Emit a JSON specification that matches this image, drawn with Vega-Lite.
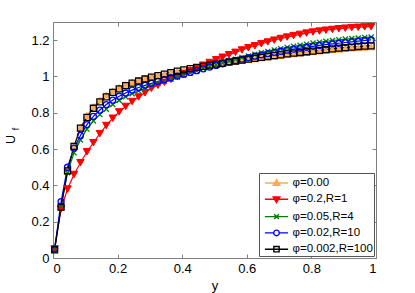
{
  "$schema": "https://vega.github.io/schema/vega-lite/v6.json",
  "width": 323,
  "height": 236,
  "autosize": "none",
  "padding": {"left": 53, "top": 22, "right": 39, "bottom": 35},
  "background": "white",
  "config": {
    "view": {"stroke": null},
    "font": "Liberation Sans",
    "axis": {
      "grid": false,
      "labelFont": "Liberation Sans",
      "labelFontSize": 13,
      "labelColor": "#000000",
      "domainColor": "#808080",
      "domainWidth": 1,
      "tickColor": "#808080",
      "tickSize": -4,
      "labelPadding": 8,
      "titleFont": "Liberation Sans",
      "titleFontWeight": "normal",
      "titleFontSize": 13,
      "titleColor": "#000000"
    },
    "legend": {
      "orient": "bottom-right",
      "offset": 2,
      "padding": 1,
      "strokeColor": "#555555",
      "fillColor": "white",
      "labelFont": "Liberation Sans",
      "labelFontSize": 11.5,
      "labelColor": "#000000",
      "symbolSize": 256,
      "symbolStrokeWidth": 1.5,
      "symbolOffset": 7.5,
      "rowPadding": 1.3,
      "labelOffset": 7
    }
  },
  "data": {"values": [
    {"s":"φ=0.00","x":0.005,"u":0.05},{"s":"φ=0.00","x":0.025,"u":0.28},{"s":"φ=0.00","x":0.045,"u":0.48},{"s":"φ=0.00","x":0.065,"u":0.62},{"s":"φ=0.00","x":0.085,"u":0.72},
    {"s":"φ=0.00","x":0.105,"u":0.785},{"s":"φ=0.00","x":0.125,"u":0.835},{"s":"φ=0.00","x":0.145,"u":0.87},{"s":"φ=0.00","x":0.165,"u":0.898},{"s":"φ=0.00","x":0.185,"u":0.921},
    {"s":"φ=0.00","x":0.205,"u":0.94},{"s":"φ=0.00","x":0.225,"u":0.956},{"s":"φ=0.00","x":0.245,"u":0.969},{"s":"φ=0.00","x":0.265,"u":0.98},{"s":"φ=0.00","x":0.285,"u":0.99},
    {"s":"φ=0.00","x":0.305,"u":0.999},{"s":"φ=0.00","x":0.325,"u":1.007},{"s":"φ=0.00","x":0.345,"u":1.015},{"s":"φ=0.00","x":0.365,"u":1.022},{"s":"φ=0.00","x":0.385,"u":1.029},
    {"s":"φ=0.00","x":0.405,"u":1.036},{"s":"φ=0.00","x":0.425,"u":1.042},{"s":"φ=0.00","x":0.445,"u":1.048},{"s":"φ=0.00","x":0.465,"u":1.054},{"s":"φ=0.00","x":0.485,"u":1.06},
    {"s":"φ=0.00","x":0.505,"u":1.066},{"s":"φ=0.00","x":0.525,"u":1.071},{"s":"φ=0.00","x":0.545,"u":1.077},{"s":"φ=0.00","x":0.565,"u":1.082},{"s":"φ=0.00","x":0.585,"u":1.087},
    {"s":"φ=0.00","x":0.605,"u":1.092},{"s":"φ=0.00","x":0.625,"u":1.097},{"s":"φ=0.00","x":0.645,"u":1.102},{"s":"φ=0.00","x":0.665,"u":1.106},{"s":"φ=0.00","x":0.685,"u":1.111},
    {"s":"φ=0.00","x":0.705,"u":1.115},{"s":"φ=0.00","x":0.725,"u":1.12},{"s":"φ=0.00","x":0.745,"u":1.124},{"s":"φ=0.00","x":0.765,"u":1.128},{"s":"φ=0.00","x":0.785,"u":1.132},
    {"s":"φ=0.00","x":0.805,"u":1.136},{"s":"φ=0.00","x":0.825,"u":1.14},{"s":"φ=0.00","x":0.845,"u":1.143},{"s":"φ=0.00","x":0.865,"u":1.147},{"s":"φ=0.00","x":0.885,"u":1.15},
    {"s":"φ=0.00","x":0.905,"u":1.153},{"s":"φ=0.00","x":0.925,"u":1.156},{"s":"φ=0.00","x":0.945,"u":1.159},{"s":"φ=0.00","x":0.965,"u":1.161},{"s":"φ=0.00","x":0.985,"u":1.163},

    {"s":"φ=0.2,R=1","x":0.005,"u":0.05},{"s":"φ=0.2,R=1","x":0.025,"u":0.27},{"s":"φ=0.2,R=1","x":0.045,"u":0.38},{"s":"φ=0.2,R=1","x":0.065,"u":0.46},{"s":"φ=0.2,R=1","x":0.085,"u":0.525},
    {"s":"φ=0.2,R=1","x":0.105,"u":0.585},{"s":"φ=0.2,R=1","x":0.125,"u":0.635},{"s":"φ=0.2,R=1","x":0.145,"u":0.685},{"s":"φ=0.2,R=1","x":0.165,"u":0.73},{"s":"φ=0.2,R=1","x":0.185,"u":0.77},
    {"s":"φ=0.2,R=1","x":0.205,"u":0.805},{"s":"φ=0.2,R=1","x":0.225,"u":0.835},{"s":"φ=0.2,R=1","x":0.245,"u":0.862},{"s":"φ=0.2,R=1","x":0.265,"u":0.887},{"s":"φ=0.2,R=1","x":0.285,"u":0.91},
    {"s":"φ=0.2,R=1","x":0.305,"u":0.935},{"s":"φ=0.2,R=1","x":0.325,"u":0.952},{"s":"φ=0.2,R=1","x":0.345,"u":0.968},{"s":"φ=0.2,R=1","x":0.365,"u":0.984},{"s":"φ=0.2,R=1","x":0.385,"u":0.999},
    {"s":"φ=0.2,R=1","x":0.405,"u":1.015},{"s":"φ=0.2,R=1","x":0.425,"u":1.031},{"s":"φ=0.2,R=1","x":0.445,"u":1.047},{"s":"φ=0.2,R=1","x":0.465,"u":1.062},{"s":"φ=0.2,R=1","x":0.485,"u":1.077},
    {"s":"φ=0.2,R=1","x":0.505,"u":1.092},{"s":"φ=0.2,R=1","x":0.525,"u":1.106},{"s":"φ=0.2,R=1","x":0.545,"u":1.12},{"s":"φ=0.2,R=1","x":0.565,"u":1.133},{"s":"φ=0.2,R=1","x":0.585,"u":1.146},
    {"s":"φ=0.2,R=1","x":0.605,"u":1.158},{"s":"φ=0.2,R=1","x":0.625,"u":1.169},{"s":"φ=0.2,R=1","x":0.645,"u":1.18},{"s":"φ=0.2,R=1","x":0.665,"u":1.19},{"s":"φ=0.2,R=1","x":0.685,"u":1.2},
    {"s":"φ=0.2,R=1","x":0.705,"u":1.209},{"s":"φ=0.2,R=1","x":0.725,"u":1.217},{"s":"φ=0.2,R=1","x":0.745,"u":1.225},{"s":"φ=0.2,R=1","x":0.765,"u":1.232},{"s":"φ=0.2,R=1","x":0.785,"u":1.239},
    {"s":"φ=0.2,R=1","x":0.805,"u":1.245},{"s":"φ=0.2,R=1","x":0.825,"u":1.25},{"s":"φ=0.2,R=1","x":0.845,"u":1.255},{"s":"φ=0.2,R=1","x":0.865,"u":1.259},{"s":"φ=0.2,R=1","x":0.885,"u":1.263},
    {"s":"φ=0.2,R=1","x":0.905,"u":1.266},{"s":"φ=0.2,R=1","x":0.925,"u":1.269},{"s":"φ=0.2,R=1","x":0.945,"u":1.271},{"s":"φ=0.2,R=1","x":0.965,"u":1.273},{"s":"φ=0.2,R=1","x":0.985,"u":1.274},

    {"s":"φ=0.05,R=4","x":0.005,"u":0.05},{"s":"φ=0.05,R=4","x":0.025,"u":0.29},{"s":"φ=0.05,R=4","x":0.045,"u":0.47},{"s":"φ=0.05,R=4","x":0.065,"u":0.58},{"s":"φ=0.05,R=4","x":0.085,"u":0.65},
    {"s":"φ=0.05,R=4","x":0.105,"u":0.71},{"s":"φ=0.05,R=4","x":0.125,"u":0.755},{"s":"φ=0.05,R=4","x":0.145,"u":0.79},{"s":"φ=0.05,R=4","x":0.165,"u":0.82},{"s":"φ=0.05,R=4","x":0.185,"u":0.846},
    {"s":"φ=0.05,R=4","x":0.205,"u":0.868},{"s":"φ=0.05,R=4","x":0.225,"u":0.888},{"s":"φ=0.05,R=4","x":0.245,"u":0.905},{"s":"φ=0.05,R=4","x":0.265,"u":0.921},{"s":"φ=0.05,R=4","x":0.285,"u":0.935},
    {"s":"φ=0.05,R=4","x":0.305,"u":0.948},{"s":"φ=0.05,R=4","x":0.325,"u":0.961},{"s":"φ=0.05,R=4","x":0.345,"u":0.973},{"s":"φ=0.05,R=4","x":0.365,"u":0.985},{"s":"φ=0.05,R=4","x":0.385,"u":0.997},
    {"s":"φ=0.05,R=4","x":0.405,"u":1.008},{"s":"φ=0.05,R=4","x":0.425,"u":1.02},{"s":"φ=0.05,R=4","x":0.445,"u":1.032},{"s":"φ=0.05,R=4","x":0.465,"u":1.043},{"s":"φ=0.05,R=4","x":0.485,"u":1.054},
    {"s":"φ=0.05,R=4","x":0.505,"u":1.065},{"s":"φ=0.05,R=4","x":0.525,"u":1.075},{"s":"φ=0.05,R=4","x":0.545,"u":1.085},{"s":"φ=0.05,R=4","x":0.565,"u":1.095},{"s":"φ=0.05,R=4","x":0.585,"u":1.104},
    {"s":"φ=0.05,R=4","x":0.605,"u":1.113},{"s":"φ=0.05,R=4","x":0.625,"u":1.122},{"s":"φ=0.05,R=4","x":0.645,"u":1.13},{"s":"φ=0.05,R=4","x":0.665,"u":1.138},{"s":"φ=0.05,R=4","x":0.685,"u":1.146},
    {"s":"φ=0.05,R=4","x":0.705,"u":1.153},{"s":"φ=0.05,R=4","x":0.725,"u":1.16},{"s":"φ=0.05,R=4","x":0.745,"u":1.166},{"s":"φ=0.05,R=4","x":0.765,"u":1.172},{"s":"φ=0.05,R=4","x":0.785,"u":1.178},
    {"s":"φ=0.05,R=4","x":0.805,"u":1.184},{"s":"φ=0.05,R=4","x":0.825,"u":1.189},{"s":"φ=0.05,R=4","x":0.845,"u":1.194},{"s":"φ=0.05,R=4","x":0.865,"u":1.198},{"s":"φ=0.05,R=4","x":0.885,"u":1.202},
    {"s":"φ=0.05,R=4","x":0.905,"u":1.206},{"s":"φ=0.05,R=4","x":0.925,"u":1.209},{"s":"φ=0.05,R=4","x":0.945,"u":1.212},{"s":"φ=0.05,R=4","x":0.965,"u":1.215},{"s":"φ=0.05,R=4","x":0.985,"u":1.217},

    {"s":"φ=0.02,R=10","x":0.005,"u":0.05},{"s":"φ=0.02,R=10","x":0.025,"u":0.31},{"s":"φ=0.02,R=10","x":0.045,"u":0.5},{"s":"φ=0.02,R=10","x":0.065,"u":0.605},{"s":"φ=0.02,R=10","x":0.085,"u":0.675},
    {"s":"φ=0.02,R=10","x":0.105,"u":0.735},{"s":"φ=0.02,R=10","x":0.125,"u":0.78},{"s":"φ=0.02,R=10","x":0.145,"u":0.815},{"s":"φ=0.02,R=10","x":0.165,"u":0.845},{"s":"φ=0.02,R=10","x":0.185,"u":0.87},
    {"s":"φ=0.02,R=10","x":0.205,"u":0.891},{"s":"φ=0.02,R=10","x":0.225,"u":0.909},{"s":"φ=0.02,R=10","x":0.245,"u":0.925},{"s":"φ=0.02,R=10","x":0.265,"u":0.939},{"s":"φ=0.02,R=10","x":0.285,"u":0.951},
    {"s":"φ=0.02,R=10","x":0.305,"u":0.962},{"s":"φ=0.02,R=10","x":0.325,"u":0.973},{"s":"φ=0.02,R=10","x":0.345,"u":0.983},{"s":"φ=0.02,R=10","x":0.365,"u":0.993},{"s":"φ=0.02,R=10","x":0.385,"u":1.002},
    {"s":"φ=0.02,R=10","x":0.405,"u":1.012},{"s":"φ=0.02,R=10","x":0.425,"u":1.022},{"s":"φ=0.02,R=10","x":0.445,"u":1.032},{"s":"φ=0.02,R=10","x":0.465,"u":1.042},{"s":"φ=0.02,R=10","x":0.485,"u":1.052},
    {"s":"φ=0.02,R=10","x":0.505,"u":1.061},{"s":"φ=0.02,R=10","x":0.525,"u":1.07},{"s":"φ=0.02,R=10","x":0.545,"u":1.079},{"s":"φ=0.02,R=10","x":0.565,"u":1.088},{"s":"φ=0.02,R=10","x":0.585,"u":1.096},
    {"s":"φ=0.02,R=10","x":0.605,"u":1.104},{"s":"φ=0.02,R=10","x":0.625,"u":1.112},{"s":"φ=0.02,R=10","x":0.645,"u":1.119},{"s":"φ=0.02,R=10","x":0.665,"u":1.126},{"s":"φ=0.02,R=10","x":0.685,"u":1.133},
    {"s":"φ=0.02,R=10","x":0.705,"u":1.139},{"s":"φ=0.02,R=10","x":0.725,"u":1.145},{"s":"φ=0.02,R=10","x":0.745,"u":1.151},{"s":"φ=0.02,R=10","x":0.765,"u":1.156},{"s":"φ=0.02,R=10","x":0.785,"u":1.161},
    {"s":"φ=0.02,R=10","x":0.805,"u":1.166},{"s":"φ=0.02,R=10","x":0.825,"u":1.171},{"s":"φ=0.02,R=10","x":0.845,"u":1.175},{"s":"φ=0.02,R=10","x":0.865,"u":1.179},{"s":"φ=0.02,R=10","x":0.885,"u":1.183},
    {"s":"φ=0.02,R=10","x":0.905,"u":1.187},{"s":"φ=0.02,R=10","x":0.925,"u":1.191},{"s":"φ=0.02,R=10","x":0.945,"u":1.195},{"s":"φ=0.02,R=10","x":0.965,"u":1.198},{"s":"φ=0.02,R=10","x":0.985,"u":1.201},

    {"s":"φ=0.002,R=100","x":0.005,"u":0.045},{"s":"φ=0.002,R=100","x":0.025,"u":0.28},{"s":"φ=0.002,R=100","x":0.045,"u":0.48},{"s":"φ=0.002,R=100","x":0.065,"u":0.615},{"s":"φ=0.002,R=100","x":0.085,"u":0.715},
    {"s":"φ=0.002,R=100","x":0.105,"u":0.775},{"s":"φ=0.002,R=100","x":0.125,"u":0.825},{"s":"φ=0.002,R=100","x":0.145,"u":0.86},{"s":"φ=0.002,R=100","x":0.165,"u":0.888},{"s":"φ=0.002,R=100","x":0.185,"u":0.912},
    {"s":"φ=0.002,R=100","x":0.205,"u":0.932},{"s":"φ=0.002,R=100","x":0.225,"u":0.949},{"s":"φ=0.002,R=100","x":0.245,"u":0.963},{"s":"φ=0.002,R=100","x":0.265,"u":0.975},{"s":"φ=0.002,R=100","x":0.285,"u":0.986},
    {"s":"φ=0.002,R=100","x":0.305,"u":0.996},{"s":"φ=0.002,R=100","x":0.325,"u":1.005},{"s":"φ=0.002,R=100","x":0.345,"u":1.013},{"s":"φ=0.002,R=100","x":0.365,"u":1.021},{"s":"φ=0.002,R=100","x":0.385,"u":1.029},
    {"s":"φ=0.002,R=100","x":0.405,"u":1.036},{"s":"φ=0.002,R=100","x":0.425,"u":1.043},{"s":"φ=0.002,R=100","x":0.445,"u":1.05},{"s":"φ=0.002,R=100","x":0.465,"u":1.056},{"s":"φ=0.002,R=100","x":0.485,"u":1.062},
    {"s":"φ=0.002,R=100","x":0.505,"u":1.068},{"s":"φ=0.002,R=100","x":0.525,"u":1.074},{"s":"φ=0.002,R=100","x":0.545,"u":1.08},{"s":"φ=0.002,R=100","x":0.565,"u":1.085},{"s":"φ=0.002,R=100","x":0.585,"u":1.09},
    {"s":"φ=0.002,R=100","x":0.605,"u":1.095},{"s":"φ=0.002,R=100","x":0.625,"u":1.1},{"s":"φ=0.002,R=100","x":0.645,"u":1.105},{"s":"φ=0.002,R=100","x":0.665,"u":1.11},{"s":"φ=0.002,R=100","x":0.685,"u":1.115},
    {"s":"φ=0.002,R=100","x":0.705,"u":1.119},{"s":"φ=0.002,R=100","x":0.725,"u":1.124},{"s":"φ=0.002,R=100","x":0.745,"u":1.128},{"s":"φ=0.002,R=100","x":0.765,"u":1.132},{"s":"φ=0.002,R=100","x":0.785,"u":1.136},
    {"s":"φ=0.002,R=100","x":0.805,"u":1.14},{"s":"φ=0.002,R=100","x":0.825,"u":1.144},{"s":"φ=0.002,R=100","x":0.845,"u":1.148},{"s":"φ=0.002,R=100","x":0.865,"u":1.152},{"s":"φ=0.002,R=100","x":0.885,"u":1.156},
    {"s":"φ=0.002,R=100","x":0.905,"u":1.159},{"s":"φ=0.002,R=100","x":0.925,"u":1.162},{"s":"φ=0.002,R=100","x":0.945,"u":1.165},{"s":"φ=0.002,R=100","x":0.965,"u":1.167},{"s":"φ=0.002,R=100","x":0.985,"u":1.169}
  ]},
  "layer": [
    {
      "mark": {"type": "line", "strokeWidth": 1.2},
      "encoding": {
        "x": {"field": "x", "type": "quantitative",
              "scale": {"domain": [0, 1], "nice": false, "zero": false},
              "axis": {"orient": "bottom", "values": [0, 0.2, 0.4, 0.6, 0.8, 1], "format": "~g",
                       "title": "y", "titleY": 31, "titleBaseline": "alphabetic"}},
        "y": {"field": "u", "type": "quantitative",
              "scale": {"domain": [0, 1.3], "nice": false, "zero": false},
              "axis": {"orient": "left", "values": [0, 0.2, 0.4, 0.6, 0.8, 1, 1.2], "format": "~g",
                       "title": "U", "titleX": -43, "titleY": 117, "titleAlign": "center", "titleBaseline": "middle", "titleFontSize": 12.5}},
        "stroke": {"field": "s", "type": "nominal",
                   "scale": {"domain": ["φ=0.00", "φ=0.2,R=1", "φ=0.05,R=4", "φ=0.02,R=10", "φ=0.002,R=100"],
                             "range": ["#FFAA55", "#FF0000", "#008000", "#0000FF", "#000000"]},
                   "legend": {"title": null,
                              "encode": {"symbols": {"update": {
                                "shape": {"signal": "['M-1.45,0H1.45M0,-0.42L0.42,0.3L-0.42,0.3Z','M-1.45,0H1.45M0,0.42L0.42,-0.3L-0.42,-0.3Z','M-1.45,0H1.45M-0.3,-0.3L0.3,0.3M-0.3,0.3L0.3,-0.3','M-1.45,0H-0.35M0.35,0H1.45M0.35,0A0.35,0.35 0 1 1 -0.35,0A0.35,0.35 0 1 1 0.35,0','M-1.45,0H1.45M-0.33,-0.33H0.33V0.33H-0.33Z'][datum.index]"},
                                "fill": {"signal": "['#FFAA55','#FF0000','transparent','transparent','transparent'][datum.index]"},
                                "size": {"value": 256},
                                "strokeWidth": {"value": 1.4},
                                "opacity": {"value": 1}
                              }}}}}
      }
    },
    {
      "transform": [{"filter": "datum.s == 'φ=0.00'"}],
      "mark": {"type": "point", "shape": "triangle-up", "size": 45, "filled": true, "fill": "#FFAA55", "stroke": "#FFAA55", "strokeWidth": 1, "opacity": 1},
      "encoding": {
        "x": {"field": "x", "type": "quantitative",
              "axis": {"orient": "top", "values": [0, 0.2, 0.4, 0.6, 0.8, 1], "labels": false, "title": null}},
        "y": {"field": "u", "type": "quantitative",
              "axis": {"orient": "right", "values": [0, 0.2, 0.4, 0.6, 0.8, 1, 1.2], "labels": false, "title": null}}
      }
    },
    {
      "transform": [{"filter": "datum.s == 'φ=0.2,R=1'"}],
      "mark": {"type": "point", "shape": "triangle-down", "size": 55, "filled": true, "fill": "#FF0000", "stroke": "#FF0000", "strokeWidth": 1, "opacity": 1},
      "encoding": {
        "x": {"field": "x", "type": "quantitative", "axis": null},
        "y": {"field": "u", "type": "quantitative", "axis": null}
      }
    },
    {
      "transform": [{"filter": "datum.s == 'φ=0.05,R=4'"}],
      "mark": {"type": "point", "shape": "M-1,-1L1,1M-1,1L1,-1", "size": 26, "filled": false, "stroke": "#008000", "strokeWidth": 1.3, "opacity": 1},
      "encoding": {
        "x": {"field": "x", "type": "quantitative", "axis": null},
        "y": {"field": "u", "type": "quantitative", "axis": null}
      }
    },
    {
      "transform": [{"filter": "datum.s == 'φ=0.02,R=10'"}],
      "mark": {"type": "point", "shape": "circle", "size": 36, "filled": false, "stroke": "#0000FF", "strokeWidth": 1.3, "opacity": 1},
      "encoding": {
        "x": {"field": "x", "type": "quantitative", "axis": null},
        "y": {"field": "u", "type": "quantitative", "axis": null}
      }
    },
    {
      "transform": [{"filter": "datum.s == 'φ=0.002,R=100'"}],
      "mark": {"type": "point", "shape": "square", "size": 36, "filled": false, "stroke": "#000000", "strokeWidth": 1.3, "opacity": 1},
      "encoding": {
        "x": {"field": "x", "type": "quantitative", "axis": null},
        "y": {"field": "u", "type": "quantitative", "axis": null}
      }
    },
    {
      "data": {"values": [{"t": "f"}]},
      "mark": {"type": "text", "angle": 270, "fontSize": 9, "font": "Liberation Sans", "color": "#000000", "align": "center", "baseline": "middle"},
      "encoding": {
        "text": {"field": "t"},
        "x": {"datum": -0.114, "type": "quantitative", "axis": null},
        "y": {"datum": 0.71, "type": "quantitative", "axis": null}
      }
    }
  ],
  "resolve": {"axis": {"x": "independent", "y": "independent"}}
}
